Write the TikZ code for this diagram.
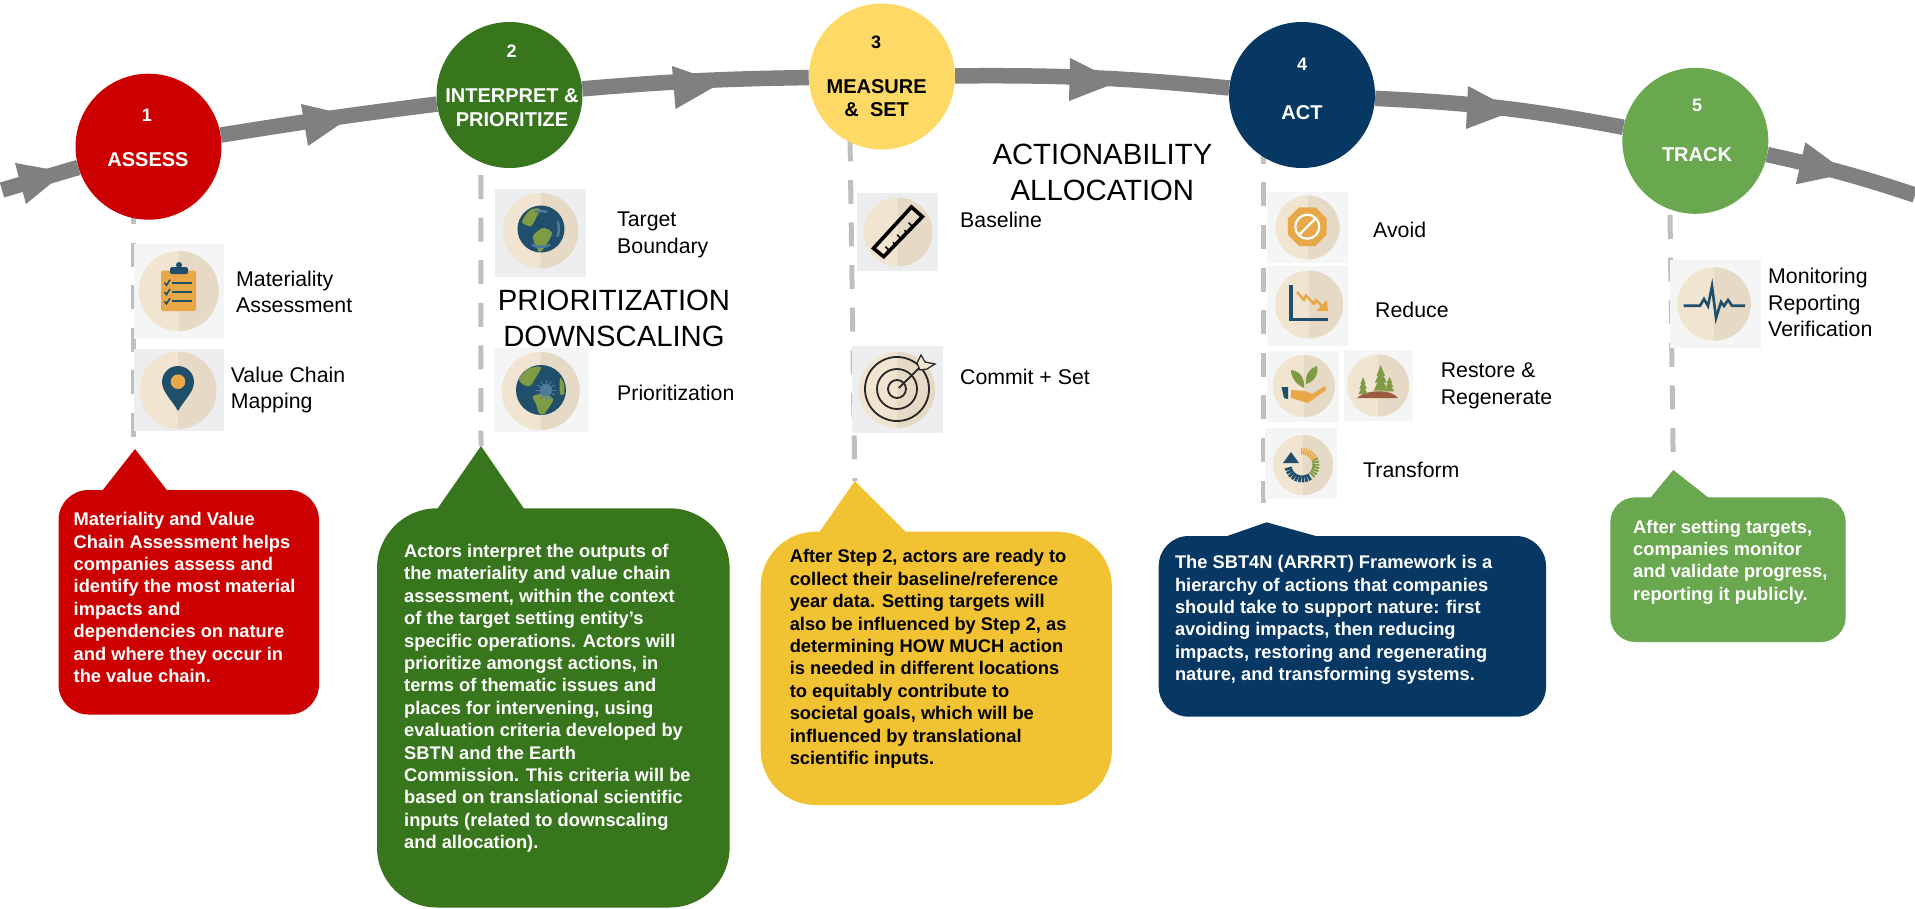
\documentclass[tikz,border=0pt]{standalone}
\usepackage{fontspec}
\setmainfont{Liberation Sans}
\usetikzlibrary{calc}

\definecolor{stepred}{HTML}{CC0000}
\definecolor{stepgreen}{HTML}{38761D}
\definecolor{stepyellow}{HTML}{FFD966}
\definecolor{noteyellow}{HTML}{F1C232}
\definecolor{stepnavy}{HTML}{073763}
\definecolor{steplime}{HTML}{6AA84F}
\definecolor{iconnavy}{HTML}{1F4F6B}
\definecolor{iconorange}{HTML}{E8A848}
\definecolor{iconleaf}{HTML}{7F9C45}
\definecolor{iconring}{HTML}{4F7A9A}
\definecolor{iconsoil}{HTML}{9C5B3E}
\definecolor{discl}{HTML}{F1E4D0}
\definecolor{discd}{HTML}{E6DAC6}
\definecolor{tilea}{HTML}{F4F6F5}
\definecolor{tileb}{HTML}{ECEEF0}

\tikzset{
    stepdisc/.style={circle, fill=#1, minimum size=146pt, inner sep=0pt},
    stepnum/.style={text=#1, font=\fontsize{18}{22}\bfseries\selectfont, inner sep=0pt},
    steptitle/.style={text=#1, font=\fontsize{20}{23.5}\bfseries\selectfont, align=center, inner sep=0pt},
    flow/.style={draw=black!50, line width=15.5pt},
    flowhead/.style={fill=black!50},
    stem/.style={draw=black!25, line width=5pt, dash pattern=on 24pt off 18.6pt},
    lab/.style={font=\fontsize{21.3}{26.5}\selectfont, align=left, anchor=west, inner sep=0pt},
    bigtitle/.style={font=\fontsize{29.3}{36}\selectfont, align=center, inner sep=0pt},
    notetext/.style={text=#1, font=\fontsize{18.3}{22.4}\bfseries\selectfont, align=left, anchor=west, inner sep=0pt}
}

\newcommand{\notebox}[9]{%
    \fill[#1, rounded corners=#6pt] (#2,#3) rectangle (#4,#5);
    \fill[#1] (#7,#3+1) -- (#9) -- (#8,#3+1) -- cycle;
}

\begin{document}
\begin{tikzpicture}[x=1pt, y=-1pt]
    \useasboundingbox (0,0) rectangle (1915,908);

    \coordinate (flowin) at (2,190);
    \coordinate (flowout) at (1915,195);
    \coordinate (top1) at (133.5,200);
    \coordinate (end1) at (133.5,438);
    \coordinate (top2) at (480.8,175);
    \coordinate (tip2) at (481,446);
    \coordinate (top3) at (850,137.3);
    \coordinate (tip3) at (854.8,481);
    \coordinate (top4) at (1263,139.8);
    \coordinate (end4) at (1263,503);
    \coordinate (top5) at (1670,215);
    \coordinate (tip5) at (1673.3,470);
    \coordinate (tip1) at (135,449);
    \coordinate (tip4) at (1266.6,522.3);

    \draw[stem] (top1) -- (end1);
    \draw[stem] (top2) -- (tip2);
    \draw[stem] (top3) -- (tip3);
    \draw[stem] (top4) -- (end4);
    \draw[stem] (top5) -- (tip5);

    \node[stepdisc=stepred] (step1) at (148.5,146.7) {};
    \node[stepdisc=stepgreen] (step2) at (509.5,95) {};
    \node[stepdisc=stepyellow] (step3) at (881.9,76.5) {};
    \node[stepdisc=stepnavy] (step4) at (1302,95) {};
    \node[stepdisc=steplime] (step5) at (1695.3,140.8) {};

    \draw[flow] (flowin) -- (step1);
    \draw[flow] (step1) to[bend left=1] (step2);
    \draw[flow] (step2) to[bend left=2] (step3);
    \draw[flow] (step3) to[bend left=3] (step4);
    \draw[flow] (step4) to[bend left=4] (step5);
    \draw[flow] (step5) to[bend left=3] (flowout);

    \fill[flowhead] (15,163) -- (26,204) -- (65,172) -- cycle;
    \fill[flowhead] (301,104) -- (308,146) -- (352,116) -- cycle;
    \fill[flowhead] (672,66) -- (675.5,109) -- (721,83) -- cycle;
    \fill[flowhead] (1070,58) -- (1069,101) -- (1118,82) -- cycle;
    \fill[flowhead] (1468,86) -- (1466,129) -- (1514.5,110.6) -- cycle;
    \fill[flowhead] (1805.4,142.3) -- (1795.8,184.3) -- (1847.7,173.3) -- cycle;

    \node[stepnum=white] (num1) at (147,115.5) {1};
    \node[steptitle=white] (title1) at (148,160) {ASSESS};
    \node[stepnum=white] (num2) at (511.7,51.5) {2};
    \node[steptitle=white] (title2) at (512,107.5) {INTERPRET \&\\PRIORITIZE};
    \node[stepnum=black] (num3) at (876,42.5) {3};
    \node[steptitle=black] (title3) at (876.7,98) {MEASURE\\\&\ \ SET};
    \node[stepnum=white] (num4) at (1302,64) {4};
    \node[steptitle=white] (title4) at (1302,112.5) {ACT};
    \node[stepnum=white] (num5) at (1697,105.5) {5};
    \node[steptitle=white] (title5) at (1697,154.5) {TRACK};

    \foreach \xa/\ya/\xb/\yb/\cx/\cy/\rad/\tilecol in {
        133.5/244/223.7/338.7/178.8/291/40/tilea,
        133.5/349.3/223.7/430.7/178/390.3/38.5/tileb,
        495/189.3/586/276.7/540.6/230.8/37.7/tileb,
        493.5/348/589.4/432/540.6/391/39/tilea,
        857/192.7/938/270.7/897.8/232/34.5/tileb,
        851.8/346/942.9/433.3/897/390/38/tileb,
        1267/192.3/1348/262.7/1307.5/227.5/32/tilea,
        1267/266/1348/345.7/1309/304.5/34/tilea,
        1267/351/1339/421.7/1303.8/386/31/tilea,
        1344/350/1413/421/1378/385.5/31/tilea,
        1265/428.3/1337/498.7/1303/465/30/tilea,
        1670/260/1760.8/347.7/1714/304/36.7/tilea} {
        \fill[\tilecol] (\xa,\ya) rectangle (\xb,\yb);
        \fill[discl] (\cx,\cy) circle (\rad);
        \fill[discd] (\cx,\cy-\rad) arc[start angle=-90, end angle=90, radius=\rad] -- cycle;
    }

    \fill[iconorange, rounded corners=1.5pt] (161,270.7) rectangle (196,311);
    \fill[iconnavy, rounded corners=1.5pt] (170,267) rectangle (188,274);
    \fill[iconnavy] (179,265) circle (3);
    \foreach \yy in {282.7,292,301.3} {
        \draw[iconnavy, line width=1.8pt] (172,\yy) -- (191.5,\yy);
        \draw[iconnavy, line width=1.6pt] (164.5,\yy) -- (166.5,\yy+2.5) -- (170,\yy-3);
    }

    \fill[iconnavy] (178,411) .. controls (172,400) and (162,392) .. (162,382) arc[start angle=180, end angle=360, radius=16] .. controls (194,392) and (184,400) .. (178,411);
    \fill[iconorange] (178,381.7) circle (7.3);

    \fill[iconnavy] (541,229) circle (23.5);
    \fill[iconleaf] plot[smooth cycle] coordinates {(533,236) (543,228) (552,233) (546,245) (540,252) (536,246)};
    \fill[iconleaf] plot[smooth cycle] coordinates {(522,222) (530,210) (540,209) (536,218) (531,226)};
    \draw[iconring, line width=2.5pt] (541,229) ++(-110:18) arc[start angle=-110, end angle=-70, radius=18];
    \draw[iconring, line width=2.5pt] (541,229) ++(-25:18) arc[start angle=-25, end angle=25, radius=18];
    \draw[iconring, line width=2.5pt] (541,229) ++(60:18) arc[start angle=60, end angle=120, radius=18];

    \fill[iconnavy] (541,390) circle (25);
    \fill[iconleaf] plot[smooth cycle] coordinates {(519,379) (528,369) (541,367) (536,377) (530,386) (524,385)};
    \fill[iconleaf] plot[smooth cycle] coordinates {(533,396) (546,394) (553,400) (544,414) (539,413) (536,404)};
    \fill[iconleaf] plot[smooth cycle] coordinates {(560,378) (564,384) (564,394) (560,394)};
    \foreach \ang in {0,30,...,330} {
        \draw[iconring, line width=1pt] (546,390) ++(\ang:5) -- ++(\ang:5);
    }
    \fill[iconring] (546,390) circle (6);

    \draw[black, line width=3.6pt, line join=miter] (873.5,248.3) -- (911.4,207) -- (922.4,216.7) -- (883.7,256.7) -- cycle;
    \foreach \t/\tlen in {0.15/4,0.3/2.5,0.45/4,0.6/2.5,0.75/4} {
        \draw[black, line width=1.5pt] ($(883.7,256.7)!\t!(922.4,216.7)$) -- ++(-\tlen,-\tlen);
    }

    \draw[black!85, line width=1.8pt] (897,389) circle (32) (897,389) circle (20) (897,389) circle (9);
    \draw[black!85, line width=1.8pt] (898.8,388) -- (925.7,361.7);
    \filldraw[fill=discl, draw=black!85, line width=1.2pt] (917,363) -- (921,355) -- (925,362) -- (935,364) -- (927,369) -- (920,370) -- cycle;

    \fill[iconorange] (1307.3,226.7) ++(22.5:21) -- ++(135:16.1) -- ++(180:16.1) -- ++(225:16.1) -- ++(270:16.1) -- ++(315:16.1) -- ++(0:16.1) -- ++(45:16.1) -- cycle;
    \draw[white, line width=2.2pt] (1307.3,226.7) circle (12) (1299,235) -- (1315.5,218.5);

    \draw[iconnavy, line width=3.2pt] (1291,285) -- (1291,319.3) -- (1328.3,319.3);
    \draw[iconorange, line width=2.4pt] (1297,292) -- (1304,300) -- (1306,295.5) -- (1314,304) -- (1316,300) -- (1323,307);
    \fill[iconorange] (1328,311) -- (1316,311) -- (1327,300) -- cycle;

    \fill[iconorange] (1291,390) -- (1305,391) -- (1312,394) -- (1325,386) -- (1326,390) -- (1308,403) -- (1291,398) -- cycle;
    \fill[iconnavy] (1281.5,387) -- (1288,387) -- (1288,399) -- (1284,398) -- cycle;
    \fill[iconleaf] (1304,388) .. controls (1296,384) and (1291,378) .. (1291,370) .. controls (1300,371) and (1305,378) .. (1304,388);
    \fill[iconleaf] (1306,384) .. controls (1305,374) and (1310,368) .. (1317,366) .. controls (1319,374) and (1314,382) .. (1306,384);

    \fill[iconsoil] (1357,398) .. controls (1365,390) and (1390,388) .. (1398,398) -- cycle;
    \foreach \tx/\ty/\tw/\th in {1380.7/365/7/27,1363/377/4.5/18,1389.5/377/4.5/15} {
        \fill[iconleaf] (\tx,\ty) -- (\tx+\tw*0.6,\ty+\th*0.4) -- (\tx-\tw*0.6,\ty+\th*0.4) -- cycle;
        \fill[iconleaf] (\tx,\ty+\th*0.2) -- (\tx+\tw*0.85,\ty+\th*0.65) -- (\tx-\tw*0.85,\ty+\th*0.65) -- cycle;
        \fill[iconleaf] (\tx,\ty+\th*0.4) -- (\tx+\tw,\ty+\th*0.95) -- (\tx-\tw,\ty+\th*0.95) -- cycle;
    }

    \foreach \a in {170,157,...,60} {
        \draw[iconnavy, line width=7pt] (1302,465) ++(\a:14) arc[start angle=\a, end angle=\a-11, radius=14];
    }
    \foreach \a in {47,36,...,-20} {
        \draw[iconleaf, line width=7pt] (1302,465) ++(\a:14) arc[start angle=\a, end angle=\a-8, radius=14];
    }
    \foreach \a in {-25,-34,...,-90} {
        \draw[iconorange, line width=7pt] (1302,465) ++(\a:14) arc[start angle=\a, end angle=\a-6, radius=14];
    }
    \fill[iconnavy] (1283,463) -- (1291,452) -- (1299,463) -- cycle;

    \draw[iconnavy, line width=2.6pt] (1683.5,305.7) -- (1700,305.7) -- (1704,299) -- (1708,306) -- (1712,286) -- (1716,318) -- (1721,302) -- (1724,306) -- (1728,300) -- (1732,305.7) -- (1745,305.7);

    \node[lab] (materiality) at (236,292) {Materiality\\Assessment};
    \node[lab] (chain) at (230.6,390) {Value Chain\\Mapping};
    \node[lab] (boundary) at (617,235) {Target\\Boundary};
    \node[lab] (prioritization) at (617,392.5) {Prioritization};
    \node[lab] (baseline) at (960,220) {Baseline};
    \node[lab] (commit) at (960,376.7) {Commit + Set};
    \node[lab] (avoid) at (1373,230) {Avoid};
    \node[lab] (reduce) at (1375,310) {Reduce};
    \node[lab] (restore) at (1440.6,386) {Restore \&\\Regenerate};
    \node[lab] (transform) at (1363,469.5) {Transform};
    \node[lab] (monitor) at (1768,302.5) {Monitoring\\Reporting\\Verification};
    \node[bigtitle] (downscale) at (614,318) {PRIORITIZATION\\DOWNSCALING};
    \node[bigtitle] (allocate) at (1102.4,172) {ACTIONABILITY\\ALLOCATION};

    \notebox{stepred}{58.5}{490}{319}{714.5}{30}{102}{167.6}{tip1}
    \notebox{stepgreen}{377}{508.3}{729.6}{907.5}{60}{437}{524.4}{tip2}
    \notebox{noteyellow}{760.7}{531.7}{1111.9}{805}{55}{819}{906.7}{tip3}
    \notebox{stepnavy}{1158.7}{536}{1546}{716.7}{30}{1224.4}{1319.4}{tip4}
    \notebox{steplime}{1610.3}{497.3}{1845.7}{642}{25}{1650}{1709.3}{tip5}

    \node[notetext=white] (note1) at (73.5,597.5) {Materiality and Value\\Chain Assessment helps\\companies assess and\\identify the most material\\impacts and\\dependencies on nature\\and where they occur in\\the value chain.};
    \node[notetext=white] (note2) at (404,698.4) {Actors interpret the outputs of\\the materiality and value chain\\assessment, within the context\\of the target setting entity’s\\specific operations. Actors will\\prioritize amongst actions, in\\terms of thematic issues and\\places for intervening, using\\evaluation criteria developed by\\SBTN and the Earth\\Commission. This criteria will be\\based on translational scientific\\inputs (related to downscaling\\and allocation).};
    \node[notetext=black] (note3) at (789.6,659) {After Step 2, actors are ready to\\collect their baseline/reference\\year data. Setting targets will\\also be influenced by Step 2, as\\determining HOW MUCH action\\is needed in different locations\\to equitably contribute to\\societal goals, which will be\\influenced by translational\\scientific inputs.};
    \node[notetext=white] (note4) at (1174.8,620) {The SBT4N (ARRRT) Framework is a\\hierarchy of actions that companies\\should take to support nature: first\\avoiding impacts, then reducing\\impacts, restoring and regenerating\\nature, and transforming systems.};
    \node[notetext=white] (note5) at (1633,562) {After setting targets,\\companies monitor\\and validate progress,\\reporting it publicly.};
\end{tikzpicture}
\end{document}
